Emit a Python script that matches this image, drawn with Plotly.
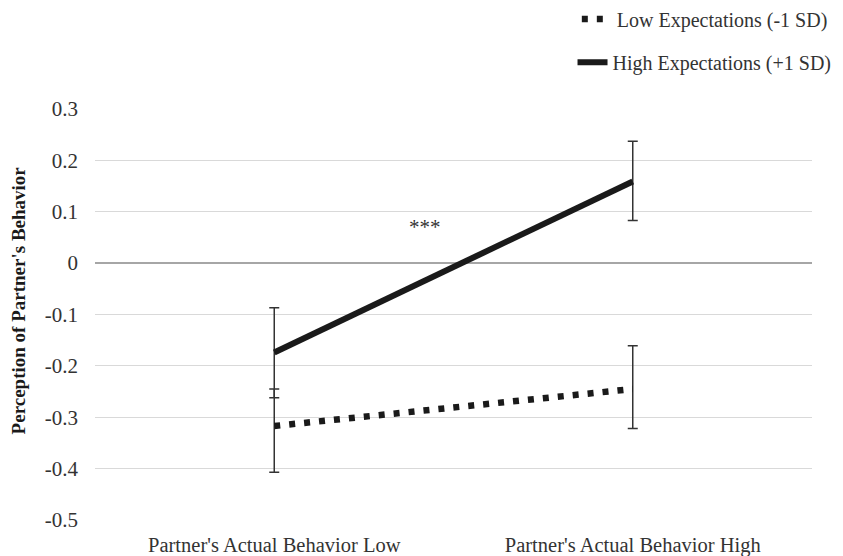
import plotly.graph_objects as go

categories = ["Partner's Actual Behavior Low", "Partner's Actual Behavior High"]
low_exp = [-0.317, -0.245]
low_err_plus = [0.072, 0.084]
low_err_minus = [0.090, 0.077]
high_exp = [-0.174, 0.159]
high_err_plus = [0.087, 0.078]
high_err_minus = [0.088, 0.076]
y_ticks = [0.3, 0.2, 0.1, 0, -0.1, -0.2, -0.3, -0.4, -0.5]
y_ticktext = ["0.3", "0.2", "0.1", "0", "-0.1", "-0.2", "-0.3", "-0.4", "-0.5"]
y_title = "Perception of Partner's Behavior"

FONT = "Liberation Serif, Times New Roman, serif"
FS = 21

fig = go.Figure()
fig.add_trace(go.Scatter(
    x=categories, y=low_exp, mode="lines", name="Low Expectations (-1 SD)",
    line=dict(color="#1a1a1a", width=6.5, dash="6px,9px"),
    error_y=dict(type="data", array=low_err_plus, arrayminus=low_err_minus,
                 color="#333333", thickness=1.5, width=5),
    legend="legend",
))
fig.add_trace(go.Scatter(
    x=categories, y=high_exp, mode="lines", name="High Expectations (+1 SD)",
    line=dict(color="#1a1a1a", width=6),
    error_y=dict(type="data", array=high_err_plus, arrayminus=high_err_minus,
                 color="#333333", thickness=1.5, width=5),
    legend="legend2",
))

fig.add_annotation(x=0.42, y=0.07, xref="x", yref="y", text="***", showarrow=False,
                   font=dict(family=FONT, size=FS, color="#333333"))
fig.add_annotation(x=-0.107, y=0.535, xref="paper", yref="paper", text="<b>" + y_title + "</b>",
                   textangle=-90, showarrow=False, xanchor="center", yanchor="middle",
                   font=dict(family=FONT, size=19, color="#1a1a1a"))

fig.update_layout(
    width=835, height=548,
    margin=dict(l=87, r=31, t=101, b=36, autoexpand=False),
    paper_bgcolor="white", plot_bgcolor="white",
    font=dict(family=FONT, size=FS, color="#333333"),
    showlegend=True,
    legend=dict(x=0.672, y=1.219, xanchor="left", yanchor="middle",
                font=dict(family=FONT, size=20, color="#333333"),
                bgcolor="rgba(0,0,0,0)"),
    legend2=dict(x=0.666, y=1.114, xanchor="left", yanchor="middle",
                 font=dict(family=FONT, size=20, color="#333333"),
                 bgcolor="rgba(0,0,0,0)"),
    xaxis=dict(type="category", range=[-0.5, 1.5], showgrid=False, zeroline=False,
               showline=False, ticks="", ticklabelstandoff=10,
               tickfont=dict(family=FONT, size=20.5, color="#333333")),
    yaxis=dict(range=[-0.5, 0.3], tickvals=y_ticks, ticktext=y_ticktext,
               showgrid=True, gridcolor="#d9d9d9", gridwidth=1,
               zeroline=True, zerolinecolor="#a6a6a6", zerolinewidth=2,
               showline=False, ticks="", ticklabelstandoff=16,
               tickfont=dict(family=FONT, size=FS, color="#333333")),
)

fig.write_html("out.html")
